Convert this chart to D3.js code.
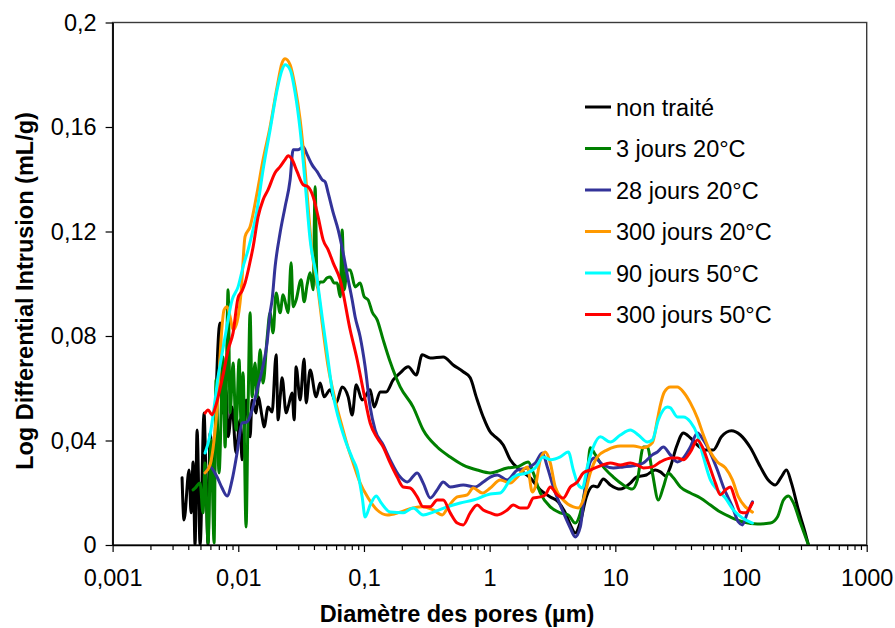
<!DOCTYPE html>
<html><head><meta charset="utf-8">
<script src="https://cdn.jsdelivr.net/npm/d3@7"></script>
<style>body{margin:0;background:#fff} text{font-family:"Liberation Sans",Arial,sans-serif}</style>
</head><body><svg id="c" width="895" height="628"></svg>
<script>
// ---- data: [diameter (µm), log differential intrusion (mL/g)] ----
const nonTraite = [[0.00357,0.0257],[0.00370,0.0096],[0.00406,0.0287],[0.00421,0.0123],[0.00437,0.0318],[0.00453,0.0],[0.00470,0.044],[0.00497,0.0],[0.00534,0.0505],[0.00554,0.025],[0.00575,0.0],[0.00596,0.043],[0.00642,0.025],[0.00665,0.0555],[0.00716,0.085],[0.00743,0.0505],[0.00800,0.0594],[0.00830,0.0414],[0.00893,0.0528],[0.00960,0.0352],[0.01033,0.0479],[0.01072,0.0326],[0.01153,0.0555],[0.01241,0.0414],[0.01288,0.0555],[0.01385,0.0505],[0.01437,0.0567],[0.01547,0.049],[0.01604,0.0452],[0.01727,0.0528],[0.01858,0.0509],[0.0200,0.0728],[0.02074,0.0479],[0.02152,0.0563],[0.02232,0.064],[0.02402,0.0506],[0.02492,0.0528],[0.02681,0.0582],[0.02782,0.0479],[0.02885,0.0682],[0.03105,0.0555],[0.03341,0.0712],[0.03466,0.0544],[0.0373,0.067],[0.04164,0.0567],[0.04481,0.062],[0.04822,0.0567],[0.05383,0.0594],[0.06009,0.0544],[0.06708,0.0605],[0.07489,0.0567],[0.08058,0.0498],[0.08672,0.0613],[0.09676,0.0555],[0.112,0.0594],[0.1206,0.0528],[0.1346,0.0586],[0.1502,0.0586],[0.1708,0.0632],[0.1942,0.0659],[0.225,0.0682],[0.2604,0.0651],[0.2906,0.0728],[0.3366,0.0716],[0.4272,0.072],[0.5131,0.0689],[0.6163,0.0663],[0.7006,0.064],[0.7821,0.0567],[0.8892,0.049],[1.011,0.0433],[1.068,0.0421],[1.283,0.0383],[1.459,0.0326],[1.752,0.0287],[2.105,0.0257],[2.528,0.0211],[3.038,0.0184],[3.517,0.0165],[4.0,0.0123],[4.464,0.0069],[4.80,0.0046],[5.265,0.0088],[5.877,0.0184],[6.681,0.0226],[7.164,0.0222],[8.026,0.0253],[9.125,0.023],[10.96,0.0214],[13.17,0.0237],[14.70,0.026],[17.65,0.0268],[20.82,0.0287],[22.82,0.028],[25.19,0.0264],[27.41,0.0299],[30.60,0.0375],[34.79,0.0429],[39.55,0.041],[45.80,0.0379],[52.08,0.0364],[60.30,0.0364],[69.81,0.0414],[83.86,0.0437],[98.90,0.0421],[118.8,0.0372],[142.7,0.0299],[164.7,0.0249],[187.3,0.023],[208.9,0.026],[229.9,0.0287],[252.0,0.0237],[286.4,0.0134],[319.8,0.0057],[344.1,0]];

const troisJours20 = [[0.00437,0.0211],[0.00453,0.0218],[0.00497,0.0237],[0.00524,0.0123],[0.00544,0.0314],[0.00575,0.0008],[0.00607,0.0402],[0.00642,0.0008],[0.00665,0.0632],[0.00703,0.0276],[0.00757,0.072],[0.00785,0.0375],[0.0083,0.0977],[0.00861,0.0506],[0.00909,0.0697],[0.0096,0.044],[0.01015,0.0709],[0.01052,0.0467],[0.01092,0.0659],[0.01153,0.0069],[0.01197,0.0528],[0.01241,0.0889],[0.01288,0.0567],[0.0136,0.0697],[0.01411,0.0567],[0.01491,0.0747],[0.01575,0.062],[0.01696,0.0793],[0.01791,0.0889],[0.01892,0.0812],[0.02,0.0965],[0.02152,0.0889],[0.02273,0.0958],[0.02492,0.0889],[0.02633,0.108],[0.02731,0.0912],[0.02885,0.0938],[0.03162,0.1015],[0.03341,0.0931],[0.0353,0.0996],[0.0373,0.1042],[0.0394,0.0977],[0.04088,0.1371],[0.04241,0.0988],[0.04481,0.1007],[0.04734,0.1007],[0.05093,0.1023],[0.05383,0.1026],[0.05793,0.1003],[0.06119,0.1003],[0.06467,0.095],[0.06708,0.1206],[0.06959,0.0977],[0.07346,0.1053],[0.07768,0.1053],[0.0851,0.0988],[0.09326,0.1003],[0.1004,0.095],[0.108,0.0938],[0.1162,0.0892],[0.1274,0.0862],[0.1422,0.0785],[0.1616,0.0701],[0.1942,0.0605],[0.2464,0.0528],[0.296,0.044],[0.3826,0.0375],[0.4856,0.0337],[0.6163,0.0306],[0.7967,0.0287],[1.011,0.0276],[1.381,0.0295],[1.659,0.0299],[2.029,0.0318],[2.224,0.0276],[2.528,0.0199],[3.038,0.0146],[3.649,0.0123],[4.225,0.0115],[4.80,0.0084],[5.265,0.0123],[5.985,0.0276],[6.324,0.0372],[6.805,0.0352],[7.597,0.0314],[9.641,0.026],[11.58,0.023],[13.66,0.0214],[14.97,0.0249],[16.71,0.0375],[17.98,0.0375],[19.71,0.0276],[22.0,0.0172],[24.11,0.0222],[26.42,0.0276],[28.96,0.0257],[32.93,0.0222],[39.55,0.0199],[47.52,0.018],[57.07,0.0153],[68.55,0.0126],[82.34,0.0107],[104.5,0.0088],[135.1,0.008],[171.4,0.0084],[194.9,0.0107],[217.6,0.0172],[238.5,0.0188],[261.4,0.0161],[297.2,0.0084],[344.1,0]];

const vingtHuitJours20 = [[0.00544,0.0276],[0.00596,0.0299],[0.00678,0.026],[0.00743,0.0218],[0.00815,0.0188],[0.00893,0.0249],[0.00978,0.0352],[0.01072,0.0467],[0.01175,0.0471],[0.01288,0.0517],[0.01411,0.0594],[0.01547,0.067],[0.01696,0.0774],[0.01791,0.0889],[0.01858,0.0938],[0.01963,0.1065],[0.02152,0.1195],[0.02358,0.1295],[0.02585,0.1398],[0.02731,0.1513],[0.02993,0.1513],[0.03281,0.1524],[0.0353,0.1494],[0.03869,0.1455],[0.04241,0.1429],[0.04648,0.1398],[0.04911,0.139],[0.05189,0.1348],[0.05688,0.1272],[0.06234,0.1206],[0.06831,0.1118],[0.07489,0.1015],[0.08058,0.0938],[0.0851,0.0873],[0.09326,0.0797],[0.1022,0.0682],[0.112,0.0528],[0.1228,0.044],[0.1422,0.0383],[0.1616,0.0326],[0.1942,0.026],[0.2208,0.0241],[0.2652,0.0276],[0.296,0.0237],[0.3366,0.018],[0.3826,0.0211],[0.4272,0.0241],[0.4856,0.0222],[0.6163,0.023],[0.7679,0.0222],[0.8892,0.0241],[1.011,0.026],[1.149,0.0268],[1.381,0.0249],[1.659,0.0287],[1.993,0.0295],[2.307,0.0314],[2.623,0.0352],[2.875,0.0299],[3.21,0.0222],[3.785,0.0134],[4.383,0.0065],[4.80,0.0031],[5.265,0.0069],[5.769,0.0222],[6.324,0.0318],[6.805,0.0333],[8.026,0.0306],[9.641,0.0295],[11.58,0.0299],[13.91,0.0303],[16.71,0.0314],[19.71,0.0345],[21.6,0.0356],[24.11,0.0375],[27.41,0.0345],[31.16,0.0318],[34.79,0.0333],[39.55,0.0375],[44.98,0.0429],[50.19,0.0402],[57.07,0.0352],[64.88,0.0287],[72.43,0.0222],[85.41,0.0146],[95.35,0.0088],[102.6,0.0077],[112.4,0.0123],[123.3,0.0165]];

const troisCentsJours20 = [[0.00544,0.0276],[0.00596,0.0306],[0.00642,0.0402],[0.0069,0.0575],[0.00729,0.0785],[0.00771,0.09],[0.00815,0.0912],[0.00861,0.0873],[0.00909,0.0823],[0.00978,0.0854],[0.01052,0.0965],[0.01132,0.118],[0.01241,0.1218],[0.01411,0.1348],[0.01575,0.1475],[0.01791,0.1601],[0.02037,0.1754],[0.02232,0.1846],[0.02358,0.1861],[0.02585,0.1838],[0.02832,0.1754],[0.03105,0.1628],[0.03403,0.1436],[0.03595,0.1295],[0.03869,0.1118],[0.04241,0.1003],[0.04648,0.085],[0.05189,0.0682],[0.059,0.0555],[0.06708,0.0452],[0.07489,0.0371],[0.08204,0.0314],[0.09326,0.0237],[0.108,0.018],[0.1274,0.0134],[0.153,0.0115],[0.1942,0.0126],[0.2464,0.0142],[0.296,0.0146],[0.3556,0.0134],[0.4195,0.0115],[0.4683,0.0146],[0.5521,0.0184],[0.6632,0.0192],[0.7402,0.0218],[0.873,0.0199],[1.011,0.0218],[1.214,0.0249],[1.459,0.0237],[1.659,0.026],[1.993,0.0299],[2.184,0.0203],[2.307,0.0222],[2.528,0.0326],[2.771,0.0356],[3.038,0.0314],[3.328,0.0222],[3.855,0.0172],[4.631,0.0146],[5.075,0.0142],[5.563,0.0172],[6.324,0.0276],[7.191,0.0337],[8.637,0.0364],[10.96,0.0379],[13.91,0.0379],[16.71,0.0372],[19.71,0.0391],[21.6,0.0479],[22.82,0.0536],[24.55,0.0586],[27.41,0.0605],[31.16,0.0605],[34.79,0.0586],[39.55,0.0544],[44.98,0.0486],[50.19,0.0421],[57.07,0.0356],[64.88,0.0318],[75.12,0.0295],[85.41,0.0249],[95.35,0.0184],[108.4,0.0146],[123.3,0.0126]];

const quatreVingtDixJours50 = [[0.00544,0.0352],[0.00596,0.0421],[0.00654,0.0555],[0.0069,0.0643],[0.00729,0.0709],[0.00785,0.0797],[0.00893,0.0938],[0.00996,0.0988],[0.01092,0.1065],[0.01197,0.113],[0.01411,0.1283],[0.01575,0.1436],[0.01791,0.1589],[0.02037,0.1743],[0.02232,0.1819],[0.02358,0.1838],[0.02585,0.1819],[0.02832,0.1731],[0.03105,0.1589],[0.03403,0.1386],[0.0373,0.1168],[0.04241,0.1015],[0.04648,0.0873],[0.05093,0.0735],[0.05584,0.0594],[0.06234,0.049],[0.07085,0.0402],[0.08058,0.0333],[0.08829,0.0287],[0.09676,0.0184],[0.1022,0.0107],[0.112,0.0153],[0.1251,0.0188],[0.1371,0.0161],[0.1616,0.0126],[0.2051,0.0123],[0.2464,0.0142],[0.296,0.0115],[0.3556,0.0126],[0.4597,0.0146],[0.5834,0.0161],[0.7402,0.0172],[1.011,0.0195],[1.214,0.0199],[1.459,0.0249],[1.659,0.0268],[1.993,0.0276],[2.307,0.0295],[2.672,0.0337],[3.06,0.0326],[3.649,0.0337],[4.225,0.0356],[4.631,0.0287],[5.075,0.023],[5.461,0.0218],[5.985,0.0299],[6.681,0.0375],[7.597,0.0414],[9.125,0.0394],[10.96,0.0421],[13.17,0.044],[15.24,0.0421],[17.98,0.0394],[19.71,0.0402],[22.0,0.0479],[25.94,0.0528],[27.41,0.0525],[31.16,0.049],[34.79,0.049],[39.55,0.0471],[44.98,0.0421],[50.19,0.0337],[57.07,0.0249],[64.88,0.0211],[75.12,0.018],[87.0,0.0134],[102.6,0.0103],[123.3,0.0084]];

const troisCentsJours50 = [[0.00544,0.0505],[0.00575,0.0517],[0.00618,0.0498],[0.00665,0.0536],[0.00703,0.0582],[0.00757,0.0651],[0.0083,0.0747],[0.00909,0.0812],[0.00996,0.0946],[0.01072,0.0973],[0.01132,0.1003],[0.01241,0.1084],[0.01312,0.1141],[0.01437,0.1256],[0.01575,0.1321],[0.01727,0.136],[0.01963,0.1425],[0.02152,0.1448],[0.02358,0.1475],[0.02492,0.149],[0.02681,0.1475],[0.02938,0.1429],[0.03281,0.1379],[0.03595,0.1371],[0.0394,0.1333],[0.04319,0.1256],[0.04734,0.1168],[0.05189,0.113],[0.05688,0.108],[0.06467,0.1015],[0.07768,0.0823],[0.08829,0.0709],[0.09854,0.0594],[0.112,0.0467],[0.1274,0.041],[0.1422,0.0375],[0.1616,0.0314],[0.1838,0.026],[0.2051,0.0222],[0.2332,0.0218],[0.2652,0.0184],[0.296,0.0146],[0.3366,0.0146],[0.3826,0.0172],[0.4272,0.0172],[0.4856,0.0123],[0.5521,0.0084],[0.6163,0.0077],[0.7006,0.0123],[0.7967,0.0153],[0.8892,0.0134],[1.011,0.0123],[1.149,0.0115],[1.381,0.0134],[1.541,0.0153],[1.752,0.0142],[1.993,0.0142],[2.224,0.018],[2.528,0.0184],[2.771,0.0192],[3.038,0.0222],[3.453,0.0192],[3.855,0.018],[4.383,0.0222],[4.983,0.0241],[5.563,0.0276],[6.324,0.0287],[7.597,0.0303],[9.125,0.0314],[10.96,0.0306],[13.17,0.0314],[14.97,0.0306],[16.71,0.0295],[19.71,0.0299],[22.82,0.0318],[27.92,0.0333],[31.16,0.0333],[34.79,0.0326],[39.55,0.0356],[44.98,0.0402],[49.28,0.0375],[55.01,0.0314],[62.55,0.0237],[68.55,0.0192],[75.12,0.0211],[82.34,0.0222],[90.24,0.0172],[98.9,0.0126],[108.4,0.0123],[123.3,0.0161]];

const seriesNames = ["non traité","3 jours 20°C","28 jours 20°C","300 jours 20°C","90 jours 50°C","300 jours 50°C"];
const seriesColors = ["#000000","#008000","#333399","#FF9900","#00FFFF","#FF0000"];
const seriesData = [nonTraite, troisJours20, vingtHuitJours20, troisCentsJours20, quatreVingtDixJours50, troisCentsJours50];

const xTicks = [0.001,0.01,0.1,1,10,100,1000];
const xTickLabels = ["0,001","0,01","0,1","1","10","100","1000"];
const yTicks = [0,0.04,0.08,0.12,0.16,0.2];
const yTickLabels = ["0","0,04","0,08","0,12","0,16","0,2"];
const xTitle = "Diamètre des pores (µm)";
const yTitle = "Log Differential Intrusion (mL/g)";

// ---- drawing ----
const svg = d3.select("#c");
const L = 112.6, R = 866.7, T = 22.5, B = 545;
const FS = 23.5;
const x = d3.scaleLog().domain([0.001, 1000]).range([L, R]);
const y = d3.scaleLinear().domain([0, 0.2]).range([B, T]);

svg.append("rect").attr("x", L).attr("y", T).attr("width", R - L).attr("height", B - T)
  .attr("fill", "none").attr("stroke", "#3a3a3a").attr("stroke-width", 1.4);

svg.append("clipPath").attr("id", "clip").append("rect")
  .attr("x", L).attr("y", T).attr("width", R - L).attr("height", B - T);

const line = d3.line().x(d => x(d[0])).y(d => y(d[1])).curve(d3.curveMonotoneX);
const g = svg.append("g").attr("clip-path", "url(#clip)");
seriesData.forEach((data, i) => {
  g.append("path").datum(data).attr("d", line).attr("fill", "none")
    .attr("stroke", seriesColors[i]).attr("stroke-width", 3)
    .attr("stroke-linejoin", "round").attr("stroke-linecap", "round");
});

// minor x ticks
const minor = [];
for (let e = -3; e < 3; e++) for (let k = 2; k <= 9; k++) minor.push(k * Math.pow(10, e));
svg.append("g").attr("transform", `translate(0,${B})`)
  .call(d3.axisBottom(x).tickValues(minor).tickFormat("").tickSize(5).tickSizeOuter(0))
  .call(s => s.select(".domain").remove())
  .selectAll("line").attr("stroke", "#000").attr("stroke-width", 1.2);

const xa = svg.append("g").attr("transform", `translate(0,${B})`)
  .call(d3.axisBottom(x).tickValues(xTicks).tickFormat((d, i) => xTickLabels[i]).tickSize(7).tickSizeOuter(0).tickPadding(17));
xa.select(".domain").attr("stroke", "#000").attr("stroke-width", 1.6);
xa.selectAll("line").attr("stroke", "#000").attr("stroke-width", 1.2);
xa.selectAll("text").attr("font-size", FS).attr("fill", "#000").attr("font-family", '"Liberation Sans",Arial,sans-serif');

const ya = svg.append("g").attr("transform", `translate(${L},0)`)
  .call(d3.axisLeft(y).tickValues(yTicks).tickFormat((d, i) => yTickLabels[i]).tickSize(7).tickSizeOuter(0).tickPadding(9));
ya.select(".domain").attr("stroke", "#000").attr("stroke-width", 1.6);
ya.selectAll("line").attr("stroke", "#000").attr("stroke-width", 1.2);
ya.selectAll("text").attr("font-size", FS).attr("fill", "#000").attr("font-family", '"Liberation Sans",Arial,sans-serif');

svg.append("text").attr("x", 457).attr("y", 622).attr("text-anchor", "middle")
  .attr("font-size", FS).attr("font-weight", "bold").text(xTitle);
svg.append("text").attr("transform", "translate(33,291) rotate(-90)").attr("text-anchor", "middle")
  .attr("font-size", FS).attr("font-weight", "bold").text(yTitle);

// legend
const lg = svg.append("g");
seriesNames.forEach((n, i) => {
  const yy = 107 + i * 41.5;
  lg.append("line").attr("x1", 585).attr("x2", 611).attr("y1", yy).attr("y2", yy)
    .attr("stroke", seriesColors[i]).attr("stroke-width", 3);
  lg.append("text").attr("x", 616).attr("y", yy + 8.5).attr("font-size", FS).text(n);
});
</script></body></html>
